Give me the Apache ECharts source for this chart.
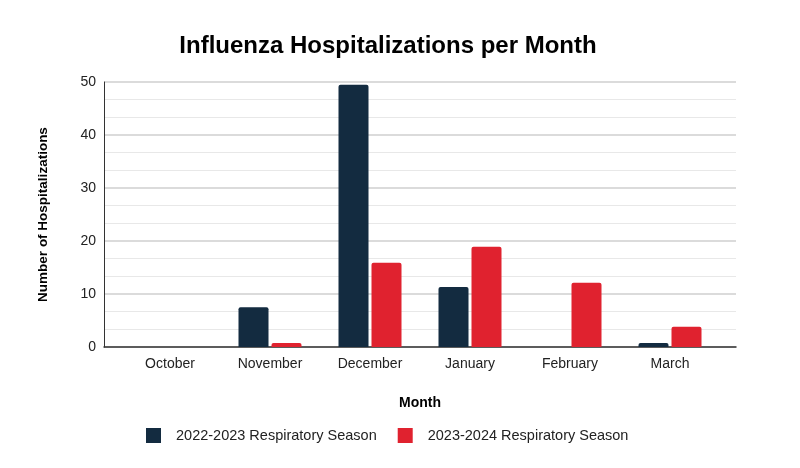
<!DOCTYPE html>
<html><head><meta charset="utf-8">
<script src="https://cdn.jsdelivr.net/npm/echarts@6/dist/echarts.min.js"></script>
<style>html,body{margin:0;padding:0;background:#fff}#c{width:800px;height:468px}</style>
</head><body><div id="c"></div>
<script>
var months = ['October','November','December','January','February','March'];
var season2223 = [0, 7.5, 49.5, 11.3, 0, 0.75];
var season2324 = [0, 0.75, 15.9, 18.9, 12.1, 3.8];
var seriesNames = ['2022-2023 Respiratory Season','2023-2024 Respiratory Season'];
var chart = echarts.init(document.getElementById('c'));
var font = 'Liberation Sans, Arial, sans-serif';
chart.setOption({
  backgroundColor:'#fff',
  title:{text:'Influenza Hospitalizations per Month',left:383,top:29,textAlign:'center',
    textStyle:{fontFamily:font,fontSize:24,fontWeight:'bold',color:'#000'}},
  legend:{top:423,left:141,itemWidth:15,itemHeight:15,itemGap:21,icon:'rect',
    textStyle:{fontFamily:font,fontSize:14.5,color:'#222',padding:[0,0,0,10]},data:seriesNames},
  grid:[
    {left:104,right:64,top:82,bottom:121},
    {left:120,right:80,top:82,bottom:121}
  ],
  xAxis:[
    {gridIndex:0,type:'category',data:months,
      axisLine:{lineStyle:{color:'#333',width:1.5}},axisTick:{show:false},axisLabel:{show:false},
      splitLine:{show:false}},
    {gridIndex:1,type:'category',data:months,name:'Month',nameLocation:'middle',nameGap:49,
      nameTextStyle:{fontFamily:font,fontSize:14,fontWeight:'bold',color:'#000'},
      axisLine:{show:false},axisTick:{show:false},
      axisLabel:{fontFamily:font,fontSize:14,color:'#222',margin:10}}
  ],
  yAxis:[
    {gridIndex:0,type:'value',min:0,max:50,interval:10,name:'Number of Hospitalizations',
      nameLocation:'middle',nameGap:54,
      nameTextStyle:{fontFamily:font,fontSize:13.5,fontWeight:'bold',color:'#000'},
      axisLine:{show:true,lineStyle:{color:'#333',width:1}},axisTick:{show:false},
      axisLabel:{fontFamily:font,fontSize:14,color:'#222',margin:8},
      splitLine:{lineStyle:{color:'#cfcfcf',width:1.5}},
      minorTick:{show:false,splitNumber:3},
      minorSplitLine:{show:true,lineStyle:{color:'#e8e8e8',width:1}}},
    {gridIndex:1,type:'value',min:0,max:50,interval:10,show:false,splitLine:{show:false}}
  ],
  series:[
    {name:seriesNames[0],type:'bar',xAxisIndex:1,yAxisIndex:1,data:season2223,barWidth:30,barGap:'10%',
      itemStyle:{color:'#132b40',borderRadius:[2,2,0,0]}},
    {name:seriesNames[1],type:'bar',xAxisIndex:1,yAxisIndex:1,data:season2324,barWidth:30,
      itemStyle:{color:'#e0222f',borderRadius:[2,2,0,0]}}
  ]
});
</script></body></html>
